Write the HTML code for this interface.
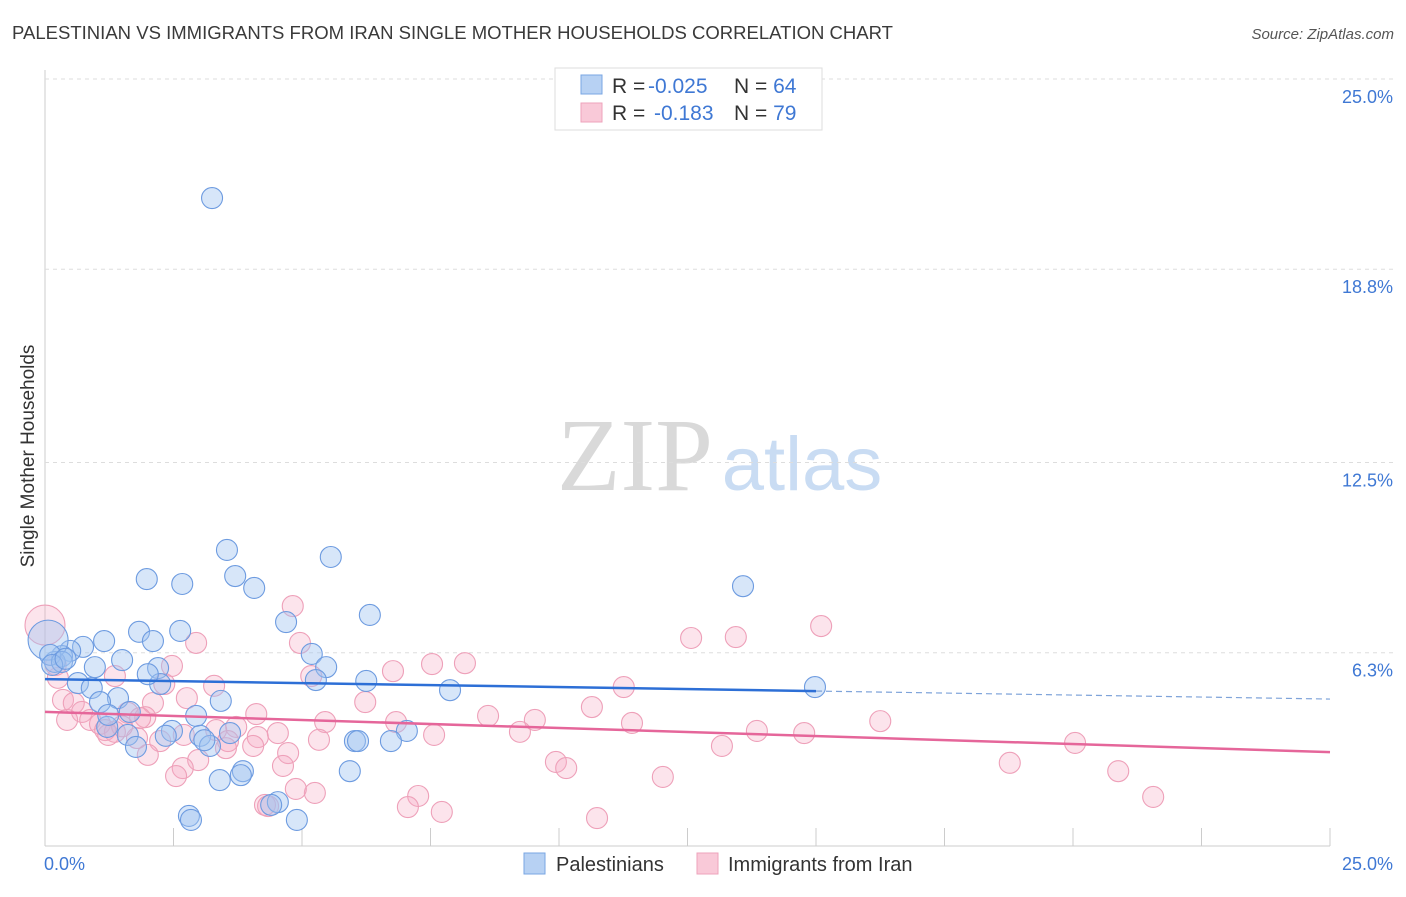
<!DOCTYPE html>
<html><head><meta charset="utf-8"><style>
body{margin:0;background:#fff;width:1406px;height:892px;overflow:hidden;font-family:"Liberation Sans",sans-serif}
</style></head><body>
<svg id="chart" width="1406" height="892" xmlns="http://www.w3.org/2000/svg" font-family="Liberation Sans, sans-serif">
<text x="12" y="39" font-size="18.5" fill="#3a3a3a" textLength="881" lengthAdjust="spacingAndGlyphs">PALESTINIAN VS IMMIGRANTS FROM IRAN SINGLE MOTHER HOUSEHOLDS CORRELATION CHART</text>
<text x="1394" y="39" font-size="15" fill="#555" font-style="italic" text-anchor="end">Source: ZipAtlas.com</text>
<g>
<text x="635" y="490" font-size="104" fill="#d9d9d9" font-family="Liberation Serif, serif" text-anchor="middle">ZIP</text>
<text x="802" y="490" font-size="76" fill="#c9dcf3" text-anchor="middle">atlas</text>
</g>
<text transform="translate(34,456) rotate(-90)" font-size="19" fill="#333" text-anchor="middle">Single Mother Households</text>
<g id="grid"></g>
<g id="marks"></g>
<g>
<rect x="555" y="68" width="267" height="62" fill="#fff" stroke="#ddd"/>
<rect x="581" y="75" width="21" height="19" fill="#b7d1f3" stroke="#78a6e3"/>
<rect x="581" y="103" width="21" height="19" fill="#f9c9d8" stroke="#eea3bb"/>
<text x="612" y="93" font-size="21" fill="#333">R = <tspan x="648" fill="#3f78d4">-0.025</tspan><tspan x="734">N = </tspan><tspan fill="#3f78d4">64</tspan></text>
<text x="612" y="120" font-size="21" fill="#333">R = <tspan x="654" fill="#3f78d4">-0.183</tspan><tspan x="734">N = </tspan><tspan fill="#3f78d4">79</tspan></text>
</g>
<g>
<rect x="524" y="853" width="21" height="21" fill="#b7d1f3" stroke="#78a6e3"/>
<text x="556" y="871" font-size="20" fill="#333">Palestinians</text>
<rect x="697" y="853" width="21" height="21" fill="#f9c9d8" stroke="#eea3bb"/>
<text x="728" y="871" font-size="20" fill="#333">Immigrants from Iran</text>
</g>
</svg>
<script>
const yTicks=[25.0,18.8,12.5,6.3];
const yTickLabels=["25.0%","18.8%","12.5%","6.3%"];
const xTickLabels=["0.0%","25.0%"];
const blueX=[3.25,3.54,5.56,1.98,2.67,3.70,4.07,13.58,6.32,4.69,1.83,2.63,1.15,2.10,0.74,0.49,0.33,1.50,0.97,0.19,2.20,5.19,5.47,6.25,0.64,0.91,2.24,1.42,1.07,3.42,7.88,14.98,1.65,2.94,2.47,2.35,1.61,3.02,3.60,1.21,3.21,1.77,6.03,6.09,7.04,6.73,5.93,3.85,3.40,3.81,4.53,4.40,2.80,2.84,4.90,0.06,0.10,0.33,0.14,1.23,5.27,0.40,2.00,3.10];
const blueY=[21.12,9.65,9.42,8.70,8.54,8.80,8.41,8.47,7.53,7.30,6.98,7.01,6.68,6.68,6.49,6.36,6.19,6.06,5.83,6.00,5.80,6.26,5.83,5.38,5.31,5.15,5.28,4.82,4.69,4.73,5.08,5.18,4.37,4.24,3.75,3.59,3.62,3.59,3.68,3.88,3.26,3.23,3.42,3.42,3.75,3.42,2.44,2.44,2.15,2.31,1.43,1.34,0.98,0.85,0.85,6.71,6.23,6.00,5.90,4.27,5.41,6.10,5.60,3.45];
const blueR=[0,0,0,0,0,0,0,0,0,0,0,0,0,0,0,0,0,0,0,0,0,0,0,0,0,0,0,0,0,0,0,0,0,0,0,0,0,0,0,0,0,0,0,0,0,0,0,0,0,0,0,0,0,0,0,1,0,0,0,0,0,0,0,0];
const pinkX=[0,4.82,2.94,12.57,13.44,15.10,4.96,7.53,8.17,6.77,2.47,5.18,1.36,2.32,3.29,0.25,11.26,0.35,0.56,2.76,2.10,6.23,10.64,0.72,0.88,1.07,1.61,1.95,4.11,8.62,16.25,9.53,11.42,1.17,1.36,5.45,6.83,3.72,3.33,4.53,9.24,7.57,13.85,14.77,2.70,2.24,1.79,3.56,4.14,5.33,0.43,13.17,20.04,4.73,2.00,2.98,2.68,9.94,10.14,18.77,20.88,2.55,12.02,4.63,5.25,4.88,7.26,4.28,4.34,7.06,7.72,10.74,21.56,1.85,1.23,4.05,3.52,0.21,1.50];
const pinkY=[7.20,7.82,6.62,6.78,6.81,7.17,6.62,5.93,5.96,5.70,5.87,5.54,5.54,5.28,5.22,5.48,5.18,4.76,4.66,4.82,4.66,4.69,4.53,4.37,4.11,3.98,4.34,4.20,4.30,4.24,4.07,4.11,4.01,3.78,3.72,4.04,4.04,3.88,3.78,3.68,3.72,3.62,3.75,3.68,3.62,3.42,3.52,3.42,3.55,3.46,4.11,3.26,3.36,3.03,2.97,2.80,2.54,2.74,2.54,2.71,2.44,2.28,2.25,2.61,1.73,1.86,1.63,1.34,1.30,1.27,1.11,0.91,1.60,4.17,3.62,3.26,3.19,5.90,3.90];
const blueTrend=[5.44,4.79];
const pinkTrend=[4.37,3.06];
const blueSolidEnd=15.0;
const X0=45,X1=1330,Y0=846,Y1=79;
const sx=v=>X0+(v/25)*(X1-X0);
const sy=v=>Y0-(v/25)*(Y0-Y1);
const NS="http://www.w3.org/2000/svg";
const grid=document.getElementById('grid'),marks=document.getElementById('marks');
function mk(tag,attrs,parent){const e=document.createElementNS(NS,tag);for(const k in attrs)e.setAttribute(k,attrs[k]);parent.appendChild(e);return e;}
let ax=mk('line',{x1:X0,y1:70,x2:X0,y2:Y0,stroke:'#ccc'},grid);


let bx=mk('line',{x1:X0,y1:Y0,x2:X1,y2:Y0,stroke:'#ccc'},grid);


yTicks.forEach((t,i)=>{
 const g=mk('line',{x1:X0,y1:sy(t),x2:1394,y2:sy(t),stroke:'#ddd','stroke-dasharray':'4,4'},grid);
 
 
 const tx=mk('text',{x:1393,y:sy(t)+24,'font-size':18,fill:'#3f78d4','text-anchor':'end'},grid);
 tx.textContent=yTickLabels[i];
 
 
});
for(let i=0;i<=10;i++){
 const x=sx(i*2.5);
 const t=mk('line',{x1:x,y1:828,x2:x,y2:Y0,stroke:'#ccc'},grid);
 
 
}
[[0,'start',44],[25,'end',1393]].forEach((d,i)=>{
 const tx=mk('text',{x:d[2],y:870,'font-size':18,fill:'#3f78d4','text-anchor':d[1]},grid);
 tx.textContent=xTickLabels[i];
 
 
});
function pts(xs,ys,rs,fill,stroke,name){
 xs.forEach((x,i)=>{
  const c=mk('circle',{cx:sx(x),cy:sy(ys[i]),r:(rs&&rs[i])?20:10.5,fill:fill,stroke:stroke,'stroke-width':1.1},marks);
  
  
 });
}
pts(pinkX,pinkY,[1],'rgba(246,170,196,0.32)','#eea0b9','iran-point');
pts(blueX,blueY,blueR,'rgba(160,196,240,0.42)','#6d9be0','palestinian-point');
const bt=v=>blueTrend[0]+(blueTrend[1]-blueTrend[0])*v/25;
const pt=v=>pinkTrend[0]+(pinkTrend[1]-pinkTrend[0])*v/25;
let l1=mk('line',{x1:sx(0),y1:sy(bt(0)),x2:sx(blueSolidEnd),y2:sy(bt(blueSolidEnd)),stroke:'#2d6fd6','stroke-width':2.5},marks);


let l2=mk('line',{x1:sx(blueSolidEnd),y1:sy(bt(blueSolidEnd)),x2:sx(25),y2:sy(bt(25)),stroke:'#7ea3d9','stroke-width':1.2,'stroke-dasharray':'6,4'},marks);


let l3=mk('line',{x1:sx(0),y1:sy(pt(0)),x2:sx(25),y2:sy(pt(25)),stroke:'#e5669a','stroke-width':2.5},marks);


</script>
</body></html>
